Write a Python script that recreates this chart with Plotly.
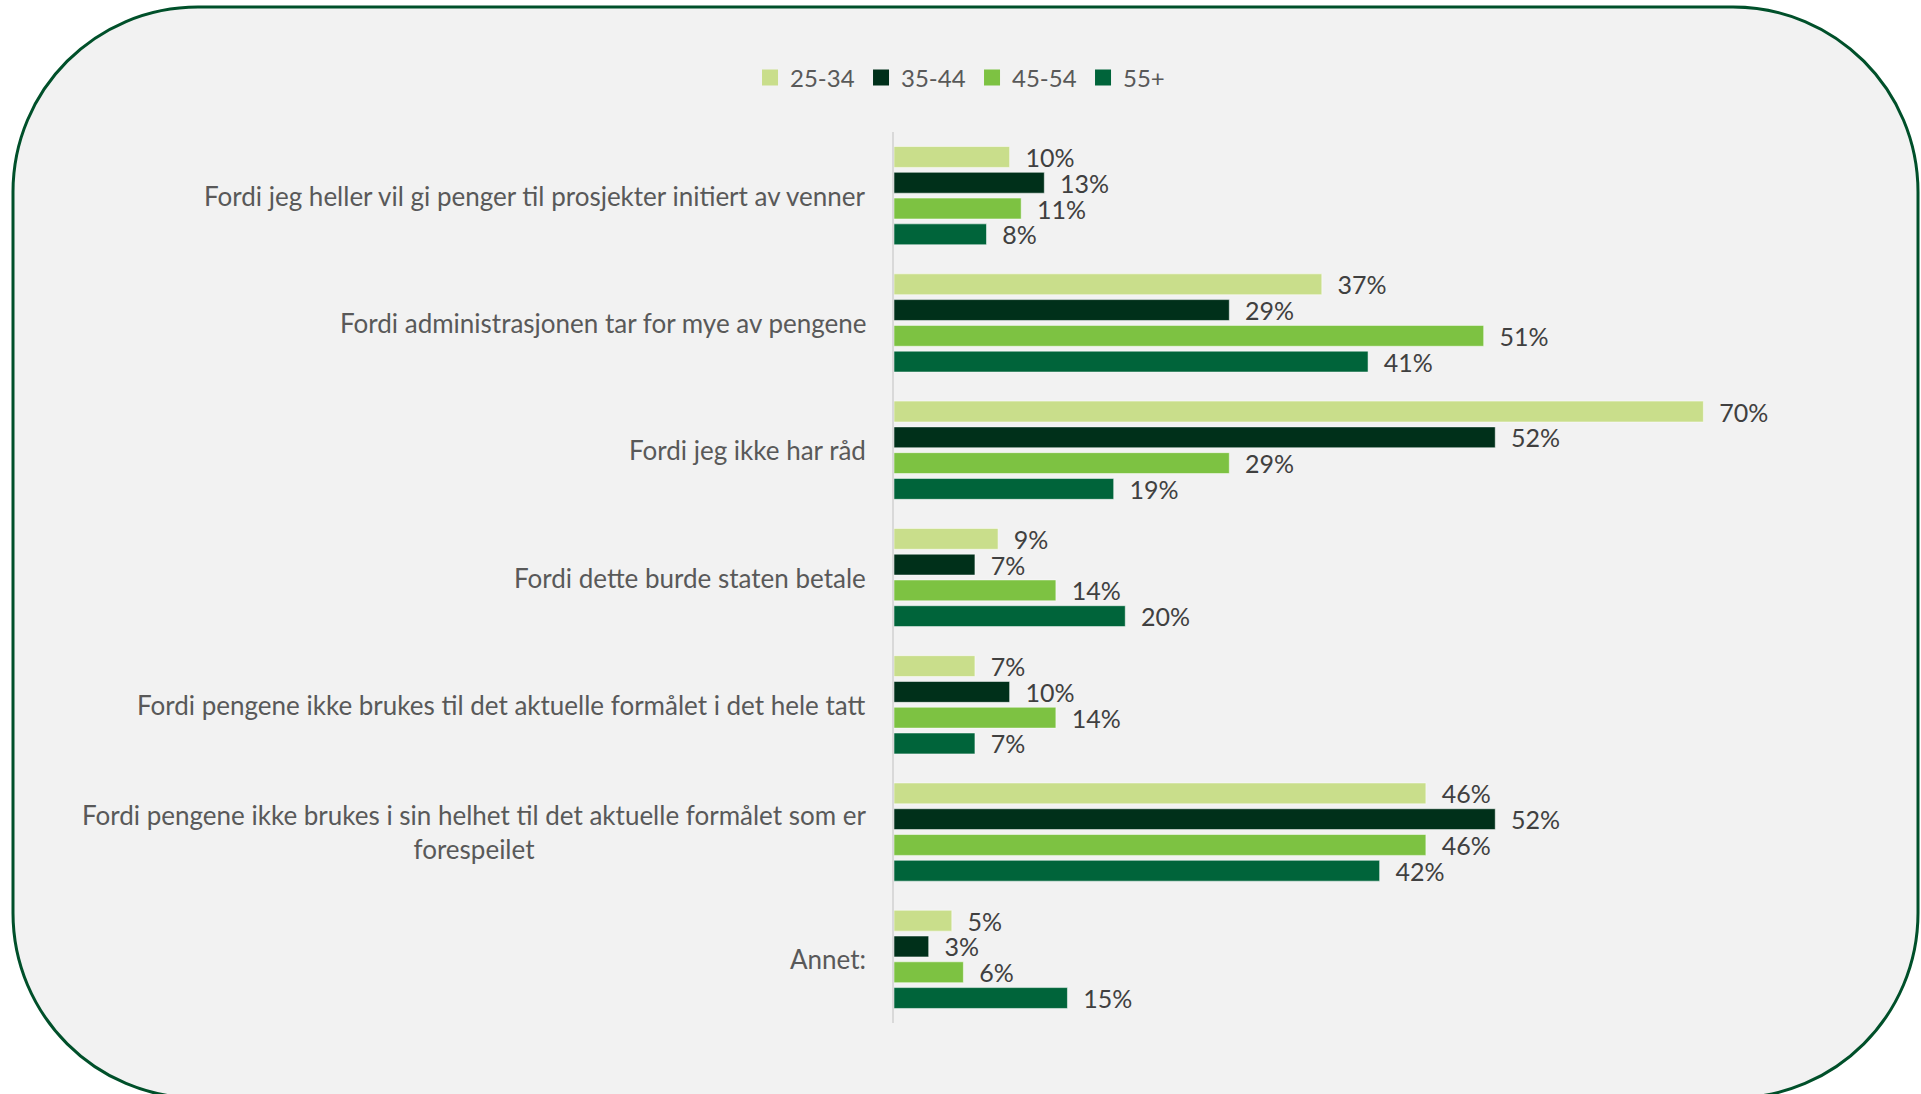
import plotly.graph_objects as go

categories = [
    "Fordi jeg heller vil gi penger til prosjekter initiert av venner",
    "Fordi administrasjonen tar for mye av pengene",
    "Fordi jeg ikke har råd",
    "Fordi dette burde staten betale",
    "Fordi pengene ikke brukes til det aktuelle formålet i det hele tatt",
    "Fordi pengene ikke brukes i sin helhet til det aktuelle formålet som er<br>forespeilet",
    "Annet:",
]
series_names = ["25-34", "35-44", "45-54", "55+"]
v_25_34 = [10, 37, 70, 9, 7, 46, 5]
v_35_44 = [13, 29, 52, 7, 10, 52, 3]
v_45_54 = [11, 51, 29, 14, 14, 46, 6]
v_55p = [8, 41, 19, 20, 7, 42, 15]
series_values = [v_25_34, v_35_44, v_45_54, v_55p]
colors = ["#C9DE8B", "#00301A", "#7DC242", "#00643A"]

W, H = 1921, 1094
L, R_px, T, B_px = 894, 1819, 132, 1023
FONT = "Lato"

fig = go.Figure()
for name, vals, col in zip(series_names, series_values, colors):
    fig.add_trace(go.Bar(
        name=name, y=categories, x=vals, orientation="h",
        marker=dict(color=col, line=dict(color="rgba(255,255,255,0.5)", width=1)),
        texttemplate="&nbsp;&nbsp;%{x}%", textposition="outside",
        constraintext="none", cliponaxis=False,
        textfont=dict(family=FONT, size=25, color="#404040"),
        hoverinfo="skip", showlegend=False,
    ))
# legend entries with larger square swatches
for name, col in zip(series_names, colors):
    fig.add_trace(go.Scatter(
        name=name, x=[None], y=[None], mode="markers",
        marker=dict(symbol="square", size=17, color=col),
        showlegend=True, hoverinfo="skip",
    ))

# rounded background frame in paper coords
def px(X):
    return (X - L) / (R_px - L)

def py(Y):
    return (B_px - Y) / (B_px - T)

x0, y0, x1, y1, r = 13, 7, 1918, 1098, 185
k = 0.5523 * r
pts = [
    f"M{px(x0 + r)},{py(y0)}",
    f"L{px(x1 - r)},{py(y0)}",
    f"C{px(x1 - r + k)},{py(y0)} {px(x1)},{py(y0 + r - k)} {px(x1)},{py(y0 + r)}",
    f"L{px(x1)},{py(y1 - r)}",
    f"C{px(x1)},{py(y1 - r + k)} {px(x1 - r + k)},{py(y1)} {px(x1 - r)},{py(y1)}",
    f"L{px(x0 + r)},{py(y1)}",
    f"C{px(x0 + r - k)},{py(y1)} {px(x0)},{py(y1 - r + k)} {px(x0)},{py(y1 - r)}",
    f"L{px(x0)},{py(y0 + r)}",
    f"C{px(x0)},{py(y0 + r - k)} {px(x0 + r - k)},{py(y0)} {px(x0 + r)},{py(y0)}",
    "Z",
]
fig.add_shape(type="path", path=" ".join(pts), xref="paper", yref="paper",
              fillcolor="#F2F2F2", line=dict(color="#00502A", width=3), layer="below")

# category labels as annotations (centered multi-line)
for c in categories:
    fig.add_annotation(x=0, xref="paper", y=c, yref="y", text=c, showarrow=False,
                       xanchor="right", xshift=-26, align="center",
                       font=dict(family=FONT, size=26, color="#595959"))

fig.update_layout(
    width=W, height=H,
    margin=dict(l=L, r=W - R_px, t=T, b=H - B_px, pad=0),
    paper_bgcolor="white", plot_bgcolor="rgba(0,0,0,0)",
    barmode="group", bargap=0.19, bargroupgap=0.19,
    showlegend=True,
    legend=dict(orientation="h", xref="container", yref="container",
                x=0.506, xanchor="center", y=1 - 78 / H, yanchor="middle",
                font=dict(family=FONT, size=24, color="#595959"),
                bgcolor="rgba(0,0,0,0)", itemwidth=30, traceorder="normal",
                entrywidth=66, entrywidthmode="pixels"),
    xaxis=dict(range=[0, 80], showgrid=False, zeroline=False, showticklabels=False,
               showline=False, fixedrange=True),
    yaxis=dict(autorange="reversed", showgrid=False, zeroline=False,
               showticklabels=False, showline=True, linecolor="#D9D9D9", linewidth=2,
               ticks="", fixedrange=True),
    font=dict(family=FONT),
)

fig.write_html("out.html", config={"displayModeBar": False},
               post_script="document.body.style.margin='0';document.body.style.overflow='hidden';")
